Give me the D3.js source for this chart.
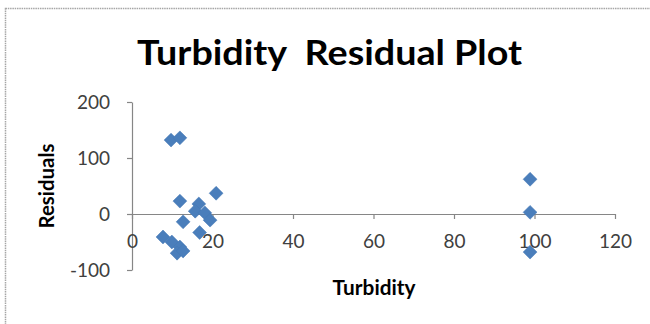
<!DOCTYPE html>
<html>
<head>
<meta charset="utf-8">
<script src="https://cdn.jsdelivr.net/npm/d3@7"></script>
<style>
  html, body { margin: 0; padding: 0; background: #fff; }
  svg { display: block; }
</style>
</head>
<body>
<svg id="chart" width="650" height="324"></svg>
<script>
// Turbidity values and their regression residuals
const turbidity = [9.7, 11.9, 11.9, 20.9, 16.6, 15.7, 18.1, 19.4, 12.7, 16.8, 7.7, 9.9, 11.9, 11.2, 12.7, 98.9, 98.9, 98.9];
const residuals = [132, 136, 23, 37, 18, 5, 2, -11, -14, -33, -41, -50, -59, -70, -66, 62, 3, -68];

const xTicks = [0, 20, 40, 60, 80, 100, 120];
const yTicks = [-100, 0, 100, 200];

const titleText = "Turbidity  Residual Plot";
const xTitle = "Turbidity";
const yTitle = "Residuals";

const points = turbidity.map((t, i) => ({ x: t, y: residuals[i] }));

const svg = d3.select("#chart");
const font = "Lato, 'Open Sans', sans-serif";
const plain = d => String(d); // hyphen minus, as in the spreadsheet labels

// chart frame
svg.append("rect")
  .attr("x", 5.5).attr("y", 8.5)
  .attr("width", 700).attr("height", 400)
  .attr("fill", "#fff")
  .attr("stroke", "#a6a6a6")
  .attr("stroke-width", 1.5)
  .attr("stroke-dasharray", "1.5,0.8");

const x = d3.scaleLinear().domain([0, 120]).range([132, 615]);
const y = d3.scaleLinear().domain([-100, 200]).range([270, 102]);

// vertical axis
const yAxis = svg.append("g")
  .attr("transform", `translate(${x(0)},0)`)
  .call(d3.axisLeft(y).tickValues(yTicks).tickFormat(plain)
    .tickSize(5).tickPadding(17).tickSizeOuter(0));

// horizontal axis crossing at zero
const xAxis = svg.append("g")
  .attr("transform", `translate(0,${y(0)})`)
  .call(d3.axisBottom(x).tickValues(xTicks).tickFormat(plain)
    .tickSize(5).tickPadding(16).tickSizeOuter(0));

[xAxis, yAxis].forEach(g => {
  g.select(".domain").attr("stroke", "#868686").attr("stroke-width", 1.2);
  g.selectAll(".tick line").attr("stroke", "#868686").attr("stroke-width", 1.2);
  g.selectAll(".tick text")
    .attr("fill", "#404040")
    .style("font-family", font)
    .style("font-size", "19px");
});
yAxis.selectAll(".tick text").attr("dy", "0.36em");

// residual markers
svg.append("g").selectAll("path")
  .data(points)
  .join("path")
  .attr("d", d3.symbol(d3.symbolSquare, 96))
  .attr("transform", d => `translate(${x(d.x)},${y(d.y)}) rotate(45)`)
  .attr("fill", "#4a7ebb")
  .attr("stroke", "#4477b5")
  .attr("stroke-width", 0.5);

// titles
svg.append("text")
  .attr("x", 329.5).attr("y", 65)
  .attr("text-anchor", "middle")
  .attr("textLength", 385)
  .attr("lengthAdjust", "spacingAndGlyphs")
  .style("font-family", font)
  .style("font-weight", "bold")
  .style("font-size", "35px")
  .style("white-space", "pre")
  .attr("fill", "#000")
  .text(titleText);

const xt = svg.append("text")
  .attr("x", 374).attr("y", 295)
  .attr("text-anchor", "middle")
  .style("font-family", font)
  .style("font-weight", "bold")
  .style("font-size", "17px")
  .attr("fill", "#000")
  .text(xTitle);
const xw = xt.node().getComputedTextLength();
xt.style("font-size", (17 * 83 / xw) + "px");

const yt = svg.append("text")
  .attr("transform", "translate(54,186) rotate(-90)")
  .attr("text-anchor", "middle")
  .style("font-family", font)
  .style("font-weight", "bold")
  .style("font-size", "17px")
  .attr("fill", "#000")
  .text(yTitle);
const yw = yt.node().getComputedTextLength();
yt.style("font-size", (17 * 85 / yw) + "px");
</script>
</body>
</html>
